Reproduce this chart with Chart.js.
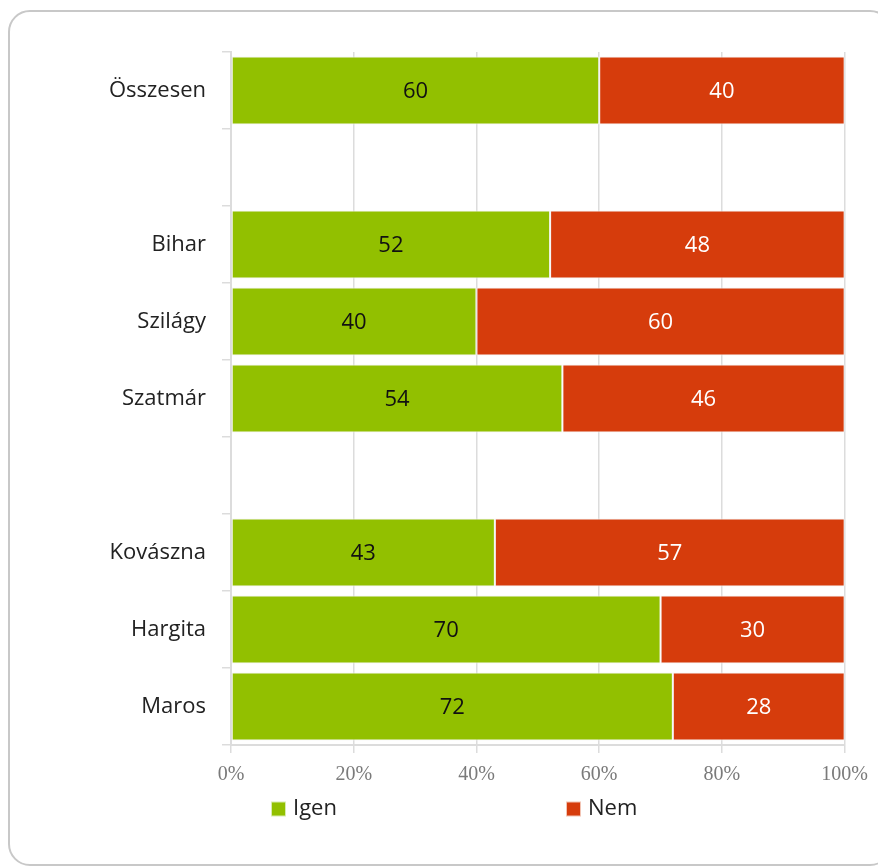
<!DOCTYPE html>
<html>
<head>
<meta charset="utf-8">
<script src="https://cdn.jsdelivr.net/npm/chart.js@4.4.1/dist/chart.umd.min.js"></script>
<style>
  html, body { margin: 0; padding: 0; background: #ffffff; overflow: hidden; }
  #card { position: absolute; left: 8px; top: 10px; width: 884px; height: 856px; border: 2px solid #c8c8c8; border-radius: 22px; box-sizing: border-box; }
  #wrap { position: absolute; left: 0; top: 0; width: 878px; height: 866px; }
</style>
</head>
<body>
<div id="card"></div>
<div id="wrap"><canvas id="c" width="878" height="866"></canvas></div>
<script>
const categories = ['Összesen', '', 'Bihar', 'Szilágy', 'Szatmár', '', 'Kovászna', 'Hargita', 'Maros'];
const igenValues = [60, null, 52, 40, 54, null, 43, 70, 72];
const nemValues  = [40, null, 48, 60, 46, null, 57, 30, 28];
const seriesNames = ['Igen', 'Nem'];
const xTickValues = [0, 20, 40, 60, 80, 100];

const GREEN = '#92c000';
const RED = '#d63c0c';

const valueLabels = {
  id: 'valueLabels',
  afterDatasetsDraw(chart) {
    const ctx = chart.ctx;
    ctx.save();
    ctx.textAlign = 'center';
    ctx.textBaseline = 'middle';
    chart.data.datasets.forEach((ds, di) => {
      const meta = chart.getDatasetMeta(di);
      ctx.font = (ds.labelWeight || '') + ' 22px "Open Sans"';
      meta.data.forEach((el, i) => {
        const v = ds.data[i];
        if (v === null || v === undefined) return;
        const p = el.getProps(['x', 'y', 'base'], true);
        ctx.fillStyle = ds.labelColor;
        ctx.fillText(String(v), (p.x + p.base) / 2, p.y + 1);
      });
    });
    ctx.restore();
  }
};

const customLegend = {
  id: 'customLegend',
  afterDraw(chart) {
    const ctx = chart.ctx;
    const a = chart.chartArea;
    const offsets = [41, 336];
    const y = 809;
    ctx.save();
    ctx.font = '22px "Open Sans"';
    ctx.textBaseline = 'middle';
    ctx.textAlign = 'left';
    chart.data.datasets.forEach((ds, i) => {
      const x = a.left + offsets[i];
      ctx.fillStyle = ds.legendBorder;
      ctx.fillRect(x - 1, y - 7.5, 15, 15);
      ctx.fillStyle = ds.backgroundColor;
      ctx.fillRect(x, y - 6.5, 13, 13);
      ctx.fillStyle = '#222222';
      ctx.fillText(ds.label, x + 21, y);
    });
    ctx.restore();
  }
};

new Chart(document.getElementById('c'), {
  type: 'bar',
  data: {
    labels: categories,
    datasets: [
      { label: seriesNames[0], data: igenValues, backgroundColor: GREEN, borderColor: '#f4f4f4', borderWidth: 1, borderSkipped: false, labelColor: '#111111', legendBorder: '#d8ecb0', barPercentage: 0.88, categoryPercentage: 1 },
      { label: seriesNames[1], data: nemValues, backgroundColor: RED, borderColor: '#f4f4f4', borderWidth: 1, borderSkipped: false, labelColor: '#ffffff', labelWeight: '500', legendBorder: '#f2c4b4', barPercentage: 0.88, categoryPercentage: 1 }
    ]
  },
  options: {
    indexAxis: 'y',
    responsive: false,
    animation: false,
    layout: { padding: { top: 52, right: 33, left: 0, bottom: 0 } },
    plugins: { legend: { display: false }, tooltip: { enabled: false } },
    scales: {
      x: {
        stacked: true,
        min: 0, max: 100,
        afterBuildTicks(scale) { scale.ticks = xTickValues.map(v => ({ value: v })); },
        afterFit(scale) { scale.height = 121; },
        ticks: {
          callback: v => v + '%',
          font: { family: '"Liberation Serif"', size: 20 },
          color: '#7a7a7a',
          padding: 10,
          maxRotation: 0
        },
        grid: { color: '#dcdcdc', lineWidth: 1.5, tickLength: 8, drawTicks: true },
        border: { color: '#dcdcdc', width: 2 }
      },
      y: {
        stacked: true,
        afterFit(scale) { scale.width = 231; },
        ticks: {
          font: { family: '"Open Sans"', size: 22 },
          color: '#222222',
          padding: 16
        },
        grid: { offset: true, drawOnChartArea: false, drawTicks: true, tickLength: 9, color: '#dcdcdc', lineWidth: 1.5 },
        border: { color: '#dcdcdc', width: 2 }
      }
    }
  },
  plugins: [valueLabels, customLegend]
});
</script>
</body>
</html>
